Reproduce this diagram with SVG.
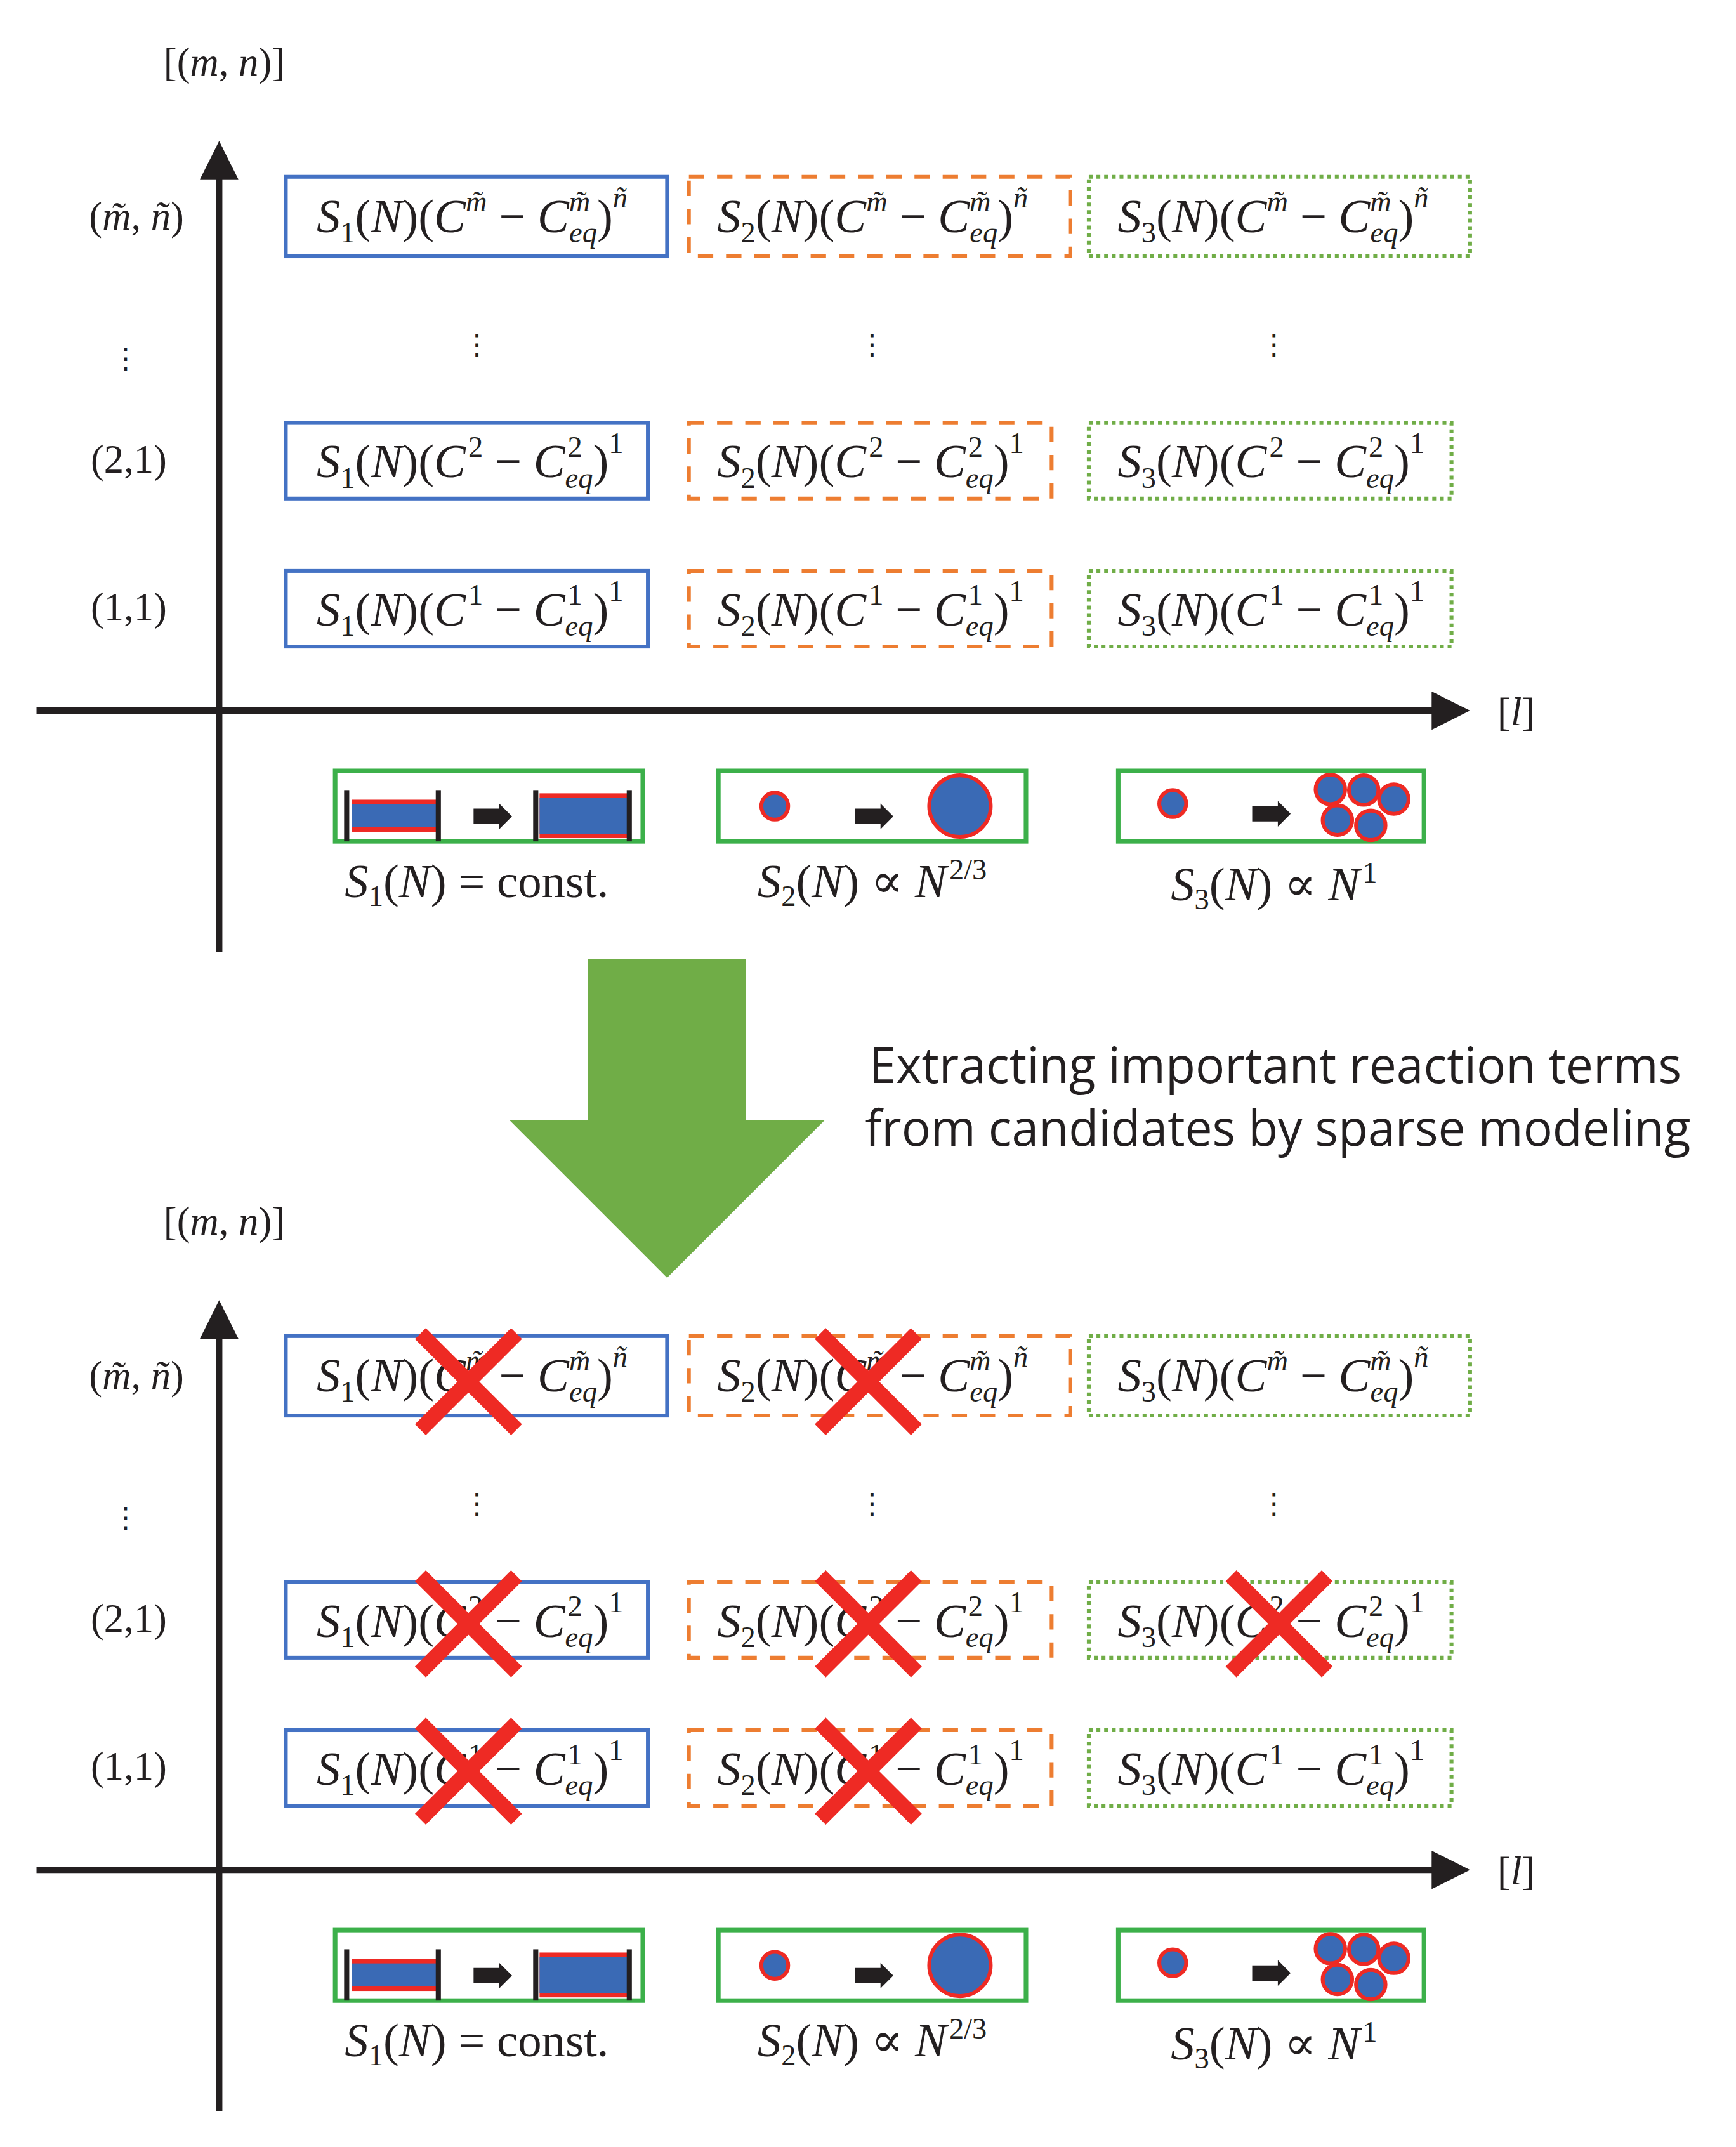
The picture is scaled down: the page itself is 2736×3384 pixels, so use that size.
<svg xmlns="http://www.w3.org/2000/svg" width="2736" height="3384" viewBox="0 0 2736 3384">
<style>
.f{font-family:"Liberation Serif","DejaVu Serif",serif;font-size:74px;fill:#231f20}
.i{font-style:italic}
.s{font-size:46px}
.lab{font-family:"Liberation Serif","DejaVu Serif",serif;font-size:62px;fill:#231f20}
.b1{fill:#fff;stroke:#4472c4;stroke-width:6}
.b2{fill:#fff;stroke:#ed7d31;stroke-width:6;stroke-dasharray:24 20}
.b3{fill:#fff;stroke:#70ad47;stroke-width:6;stroke-dasharray:6 6}
.ax{stroke:#231f20;stroke-width:10;fill:none}
.ib{fill:#fff;stroke:#3cb04a;stroke-width:7}
.bar{fill:#231f20}
.cir{fill:#3a6ab5;stroke:#ee2a24;stroke-width:6}
.x{stroke:#ee2a24;stroke-width:24;stroke-linecap:butt}
.dots{font-family:"DejaVu Sans",sans-serif;font-size:44px;fill:#231f20}
</style>
<defs>
<marker id="ah" markerWidth="6" markerHeight="6" refX="5" refY="3" orient="auto" markerUnits="strokeWidth"><path d="M0,0 L6,3 L0,6 Z" fill="#231f20"/></marker>
</defs>
<g transform="translate(4,0) scale(1.01)">
<!-- ===== TOP HALF ===== -->
<g id="top-half">
<g id="connectors-top">
<line class="ax" x1="338" y1="1486" x2="338" y2="230" marker-end="url(#ah)"/>
<line class="ax" x1="53" y1="1109" x2="2280" y2="1109" marker-end="url(#ah)"/>
</g>
<g id="axis-labels-top" class="lab">
<text x="346" y="118" text-anchor="middle">[(<tspan class="i">m</tspan>, <tspan class="i">n</tspan>)]</text>
<text x="2362" y="1132" text-anchor="middle">[<tspan class="i">l</tspan>]</text>
<text x="209" y="358" text-anchor="middle">(<tspan class="i">m̃</tspan>, <tspan class="i">ñ</tspan>)</text>
<text x="197" y="738" text-anchor="middle">(2,1)</text>
<text x="197" y="968" text-anchor="middle">(1,1)</text>
<text class="dots" x="192" y="574" text-anchor="middle">⋮</text>
<text class="dots" x="740" y="552" text-anchor="middle">⋮</text>
<text class="dots" x="1357" y="552" text-anchor="middle">⋮</text>
<text class="dots" x="1984" y="552" text-anchor="middle">⋮</text>
</g>
<g id="t-c1-top"><rect class="b1" x="442" y="276" width="595" height="124"/>
<text class="f" x="490" y="362"><tspan class="i">S</tspan><tspan class="s" dy="16">1</tspan><tspan dy="-16">(</tspan><tspan class="i">N</tspan>)(<tspan class="i">C</tspan><tspan class="s i" dy="-32">m̃</tspan><tspan dy="32"> − </tspan><tspan class="i">C</tspan><tspan class="s i" dy="-32">m̃</tspan><tspan class="s i" dy="48" dx="-33">eq</tspan><tspan dy="-16">)</tspan><tspan class="s i" dy="-38">ñ</tspan></text></g>
<g id="t-c2-top"><rect class="b2" x="1071" y="276" width="595" height="124"/>
<text class="f" x="1115" y="362"><tspan class="i">S</tspan><tspan class="s" dy="16">2</tspan><tspan dy="-16">(</tspan><tspan class="i">N</tspan>)(<tspan class="i">C</tspan><tspan class="s i" dy="-32">m̃</tspan><tspan dy="32"> − </tspan><tspan class="i">C</tspan><tspan class="s i" dy="-32">m̃</tspan><tspan class="s i" dy="48" dx="-33">eq</tspan><tspan dy="-16">)</tspan><tspan class="s i" dy="-38">ñ</tspan></text></g>
<g id="t-c3-top"><rect class="b3" x="1695" y="276" width="595" height="124"/>
<text class="f" x="1740" y="362"><tspan class="i">S</tspan><tspan class="s" dy="16">3</tspan><tspan dy="-16">(</tspan><tspan class="i">N</tspan>)(<tspan class="i">C</tspan><tspan class="s i" dy="-32">m̃</tspan><tspan dy="32"> − </tspan><tspan class="i">C</tspan><tspan class="s i" dy="-32">m̃</tspan><tspan class="s i" dy="48" dx="-33">eq</tspan><tspan dy="-16">)</tspan><tspan class="s i" dy="-38">ñ</tspan></text></g>

<g id="t-c1-21"><rect class="b1" x="442" y="660" width="565" height="118"/>
<text class="f" x="490" y="745"><tspan class="i">S</tspan><tspan class="s" dy="16">1</tspan><tspan dy="-16">(</tspan><tspan class="i">N</tspan>)(<tspan class="i">C</tspan><tspan class="s" dy="-32" dx="4">2</tspan><tspan dy="32"> − </tspan><tspan class="i">C</tspan><tspan class="s" dy="-32" dx="4">2</tspan><tspan class="s i" dy="48" dx="-27">eq</tspan><tspan dy="-16">)</tspan><tspan class="s" dy="-38">1</tspan></text></g>
<g id="t-c2-21"><rect class="b2" x="1071" y="660" width="566" height="118"/>
<text class="f" x="1115" y="745"><tspan class="i">S</tspan><tspan class="s" dy="16">2</tspan><tspan dy="-16">(</tspan><tspan class="i">N</tspan>)(<tspan class="i">C</tspan><tspan class="s" dy="-32" dx="4">2</tspan><tspan dy="32"> − </tspan><tspan class="i">C</tspan><tspan class="s" dy="-32" dx="4">2</tspan><tspan class="s i" dy="48" dx="-27">eq</tspan><tspan dy="-16">)</tspan><tspan class="s" dy="-38">1</tspan></text></g>
<g id="t-c3-21"><rect class="b3" x="1695" y="660" width="566" height="118"/>
<text class="f" x="1740" y="745"><tspan class="i">S</tspan><tspan class="s" dy="16">3</tspan><tspan dy="-16">(</tspan><tspan class="i">N</tspan>)(<tspan class="i">C</tspan><tspan class="s" dy="-32" dx="4">2</tspan><tspan dy="32"> − </tspan><tspan class="i">C</tspan><tspan class="s" dy="-32" dx="4">2</tspan><tspan class="s i" dy="48" dx="-27">eq</tspan><tspan dy="-16">)</tspan><tspan class="s" dy="-38">1</tspan></text></g>

<g id="t-c1-11"><rect class="b1" x="442" y="891" width="565" height="118"/>
<text class="f" x="490" y="976"><tspan class="i">S</tspan><tspan class="s" dy="16">1</tspan><tspan dy="-16">(</tspan><tspan class="i">N</tspan>)(<tspan class="i">C</tspan><tspan class="s" dy="-32" dx="4">1</tspan><tspan dy="32"> − </tspan><tspan class="i">C</tspan><tspan class="s" dy="-32" dx="4">1</tspan><tspan class="s i" dy="48" dx="-27">eq</tspan><tspan dy="-16">)</tspan><tspan class="s" dy="-38">1</tspan></text></g>
<g id="t-c2-11"><rect class="b2" x="1071" y="891" width="566" height="118"/>
<text class="f" x="1115" y="976"><tspan class="i">S</tspan><tspan class="s" dy="16">2</tspan><tspan dy="-16">(</tspan><tspan class="i">N</tspan>)(<tspan class="i">C</tspan><tspan class="s" dy="-32" dx="4">1</tspan><tspan dy="32"> − </tspan><tspan class="i">C</tspan><tspan class="s" dy="-32" dx="4">1</tspan><tspan class="s i" dy="48" dx="-27">eq</tspan><tspan dy="-16">)</tspan><tspan class="s" dy="-38">1</tspan></text></g>
<g id="t-c3-11"><rect class="b3" x="1695" y="891" width="566" height="118"/>
<text class="f" x="1740" y="976"><tspan class="i">S</tspan><tspan class="s" dy="16">3</tspan><tspan dy="-16">(</tspan><tspan class="i">N</tspan>)(<tspan class="i">C</tspan><tspan class="s" dy="-32" dx="4">1</tspan><tspan dy="32"> − </tspan><tspan class="i">C</tspan><tspan class="s" dy="-32" dx="4">1</tspan><tspan class="s i" dy="48" dx="-27">eq</tspan><tspan dy="-16">)</tspan><tspan class="s" dy="-38">1</tspan></text></g>

<g id="ill1-top"><rect class="ib" x="519" y="1203" width="480" height="110"/>
<rect x="545" y="1248" width="132" height="50" fill="#ee2a24"/><rect x="545" y="1255" width="132" height="36" fill="#3a6ab5"/>
<rect class="bar" x="533" y="1233" width="8" height="80"/><rect class="bar" x="676" y="1233" width="8" height="80"/>
<path d="M735,1262 h40 v-8 l20,20 l-20,20 v-8 h-40 Z" fill="#231f20"/>
<rect x="838" y="1238" width="138" height="70" fill="#ee2a24"/><rect x="838" y="1245" width="138" height="56" fill="#3a6ab5"/>
<rect class="bar" x="828" y="1233" width="8" height="80"/><rect class="bar" x="974" y="1233" width="8" height="80"/>
<text class="f" x="740" y="1400" text-anchor="middle" font-size="62"><tspan class="i">S</tspan><tspan class="s" dy="14" font-size="40">1</tspan><tspan dy="-14">(</tspan><tspan class="i">N</tspan>) = const.</text></g>
<g id="ill2-top"><rect class="ib" x="1117" y="1203" width="480" height="110"/>
<circle class="cir" cx="1205" cy="1258" r="21"/>
<path d="M1330,1262 h40 v-8 l20,20 l-20,20 v-8 h-40 Z" fill="#231f20"/>
<circle class="cir" cx="1494" cy="1258" r="48"/>
<text class="f" x="1357" y="1400" text-anchor="middle" font-size="62"><tspan class="i">S</tspan><tspan class="s" dy="14" font-size="40">2</tspan><tspan dy="-14">(</tspan><tspan class="i">N</tspan>) ∝ <tspan class="i">N</tspan><tspan class="s" dy="-28" font-size="40" dx="4">2/3</tspan></text></g>
<g id="ill3-top"><rect class="ib" x="1741" y="1203" width="477" height="110"/>
<circle class="cir" cx="1826" cy="1254" r="21"/>
<path d="M1950,1258 h40 v-8 l20,20 l-20,20 v-8 h-40 Z" fill="#231f20"/>
<circle class="cir" cx="2072" cy="1232" r="23"/><circle class="cir" cx="2124" cy="1233" r="23"/><circle class="cir" cx="2171" cy="1247" r="23"/><circle class="cir" cx="2083" cy="1280" r="23"/><circle class="cir" cx="2135" cy="1288" r="23"/>
<text class="f" x="1984" y="1405" text-anchor="middle" font-size="62"><tspan class="i">S</tspan><tspan class="s" dy="14" font-size="40">3</tspan><tspan dy="-14">(</tspan><tspan class="i">N</tspan>) ∝ <tspan class="i">N</tspan><tspan class="s" dy="-28" font-size="40" dx="4">1</tspan></text></g>
</g>

<!-- ===== BIG ARROW ===== -->
<g id="big-arrow"><path d="M913,1496 H1160 V1748 H1283 L1037,1994 L791,1748 H913 Z" fill="#70ad47"/></g>
<g id="caption">
<text x="1986" y="1690" text-anchor="middle" font-family="Open Sans, Liberation Sans, sans-serif" font-size="78" fill="#231f20" textLength="1268" lengthAdjust="spacingAndGlyphs">Extracting important reaction terms</text>
<text x="1990" y="1788" text-anchor="middle" font-family="Open Sans, Liberation Sans, sans-serif" font-size="78" fill="#231f20" textLength="1288" lengthAdjust="spacingAndGlyphs">from candidates by sparse modeling</text>
</g>

<!-- ===== BOTTOM HALF ===== -->
<g id="bottom-half" transform="translate(0,1809)">
<g id="connectors-bottom">
<line class="ax" x1="338" y1="1486" x2="338" y2="230" marker-end="url(#ah)"/>
<line class="ax" x1="53" y1="1109" x2="2280" y2="1109" marker-end="url(#ah)"/>
</g>
<g id="axis-labels-bottom" class="lab">
<text x="346" y="118" text-anchor="middle">[(<tspan class="i">m</tspan>, <tspan class="i">n</tspan>)]</text>
<text x="2362" y="1132" text-anchor="middle">[<tspan class="i">l</tspan>]</text>
<text x="209" y="358" text-anchor="middle">(<tspan class="i">m̃</tspan>, <tspan class="i">ñ</tspan>)</text>
<text x="197" y="738" text-anchor="middle">(2,1)</text>
<text x="197" y="968" text-anchor="middle">(1,1)</text>
<text class="dots" x="192" y="574" text-anchor="middle">⋮</text>
<text class="dots" x="740" y="552" text-anchor="middle">⋮</text>
<text class="dots" x="1357" y="552" text-anchor="middle">⋮</text>
<text class="dots" x="1984" y="552" text-anchor="middle">⋮</text>
</g>
<g id="b-c1-top"><rect class="b1" x="442" y="276" width="595" height="124"/>
<text class="f" x="490" y="362"><tspan class="i">S</tspan><tspan class="s" dy="16">1</tspan><tspan dy="-16">(</tspan><tspan class="i">N</tspan>)(<tspan class="i">C</tspan><tspan class="s i" dy="-32">m̃</tspan><tspan dy="32"> − </tspan><tspan class="i">C</tspan><tspan class="s i" dy="-32">m̃</tspan><tspan class="s i" dy="48" dx="-33">eq</tspan><tspan dy="-16">)</tspan><tspan class="s i" dy="-38">ñ</tspan></text></g>
<g id="b-c2-top"><rect class="b2" x="1071" y="276" width="595" height="124"/>
<text class="f" x="1115" y="362"><tspan class="i">S</tspan><tspan class="s" dy="16">2</tspan><tspan dy="-16">(</tspan><tspan class="i">N</tspan>)(<tspan class="i">C</tspan><tspan class="s i" dy="-32">m̃</tspan><tspan dy="32"> − </tspan><tspan class="i">C</tspan><tspan class="s i" dy="-32">m̃</tspan><tspan class="s i" dy="48" dx="-33">eq</tspan><tspan dy="-16">)</tspan><tspan class="s i" dy="-38">ñ</tspan></text></g>
<g id="b-c3-top"><rect class="b3" x="1695" y="276" width="595" height="124"/>
<text class="f" x="1740" y="362"><tspan class="i">S</tspan><tspan class="s" dy="16">3</tspan><tspan dy="-16">(</tspan><tspan class="i">N</tspan>)(<tspan class="i">C</tspan><tspan class="s i" dy="-32">m̃</tspan><tspan dy="32"> − </tspan><tspan class="i">C</tspan><tspan class="s i" dy="-32">m̃</tspan><tspan class="s i" dy="48" dx="-33">eq</tspan><tspan dy="-16">)</tspan><tspan class="s i" dy="-38">ñ</tspan></text></g>

<g id="b-c1-21"><rect class="b1" x="442" y="660" width="565" height="118"/>
<text class="f" x="490" y="745"><tspan class="i">S</tspan><tspan class="s" dy="16">1</tspan><tspan dy="-16">(</tspan><tspan class="i">N</tspan>)(<tspan class="i">C</tspan><tspan class="s" dy="-32" dx="4">2</tspan><tspan dy="32"> − </tspan><tspan class="i">C</tspan><tspan class="s" dy="-32" dx="4">2</tspan><tspan class="s i" dy="48" dx="-27">eq</tspan><tspan dy="-16">)</tspan><tspan class="s" dy="-38">1</tspan></text></g>
<g id="b-c2-21"><rect class="b2" x="1071" y="660" width="566" height="118"/>
<text class="f" x="1115" y="745"><tspan class="i">S</tspan><tspan class="s" dy="16">2</tspan><tspan dy="-16">(</tspan><tspan class="i">N</tspan>)(<tspan class="i">C</tspan><tspan class="s" dy="-32" dx="4">2</tspan><tspan dy="32"> − </tspan><tspan class="i">C</tspan><tspan class="s" dy="-32" dx="4">2</tspan><tspan class="s i" dy="48" dx="-27">eq</tspan><tspan dy="-16">)</tspan><tspan class="s" dy="-38">1</tspan></text></g>
<g id="b-c3-21"><rect class="b3" x="1695" y="660" width="566" height="118"/>
<text class="f" x="1740" y="745"><tspan class="i">S</tspan><tspan class="s" dy="16">3</tspan><tspan dy="-16">(</tspan><tspan class="i">N</tspan>)(<tspan class="i">C</tspan><tspan class="s" dy="-32" dx="4">2</tspan><tspan dy="32"> − </tspan><tspan class="i">C</tspan><tspan class="s" dy="-32" dx="4">2</tspan><tspan class="s i" dy="48" dx="-27">eq</tspan><tspan dy="-16">)</tspan><tspan class="s" dy="-38">1</tspan></text></g>

<g id="b-c1-11"><rect class="b1" x="442" y="891" width="565" height="118"/>
<text class="f" x="490" y="976"><tspan class="i">S</tspan><tspan class="s" dy="16">1</tspan><tspan dy="-16">(</tspan><tspan class="i">N</tspan>)(<tspan class="i">C</tspan><tspan class="s" dy="-32" dx="4">1</tspan><tspan dy="32"> − </tspan><tspan class="i">C</tspan><tspan class="s" dy="-32" dx="4">1</tspan><tspan class="s i" dy="48" dx="-27">eq</tspan><tspan dy="-16">)</tspan><tspan class="s" dy="-38">1</tspan></text></g>
<g id="b-c2-11"><rect class="b2" x="1071" y="891" width="566" height="118"/>
<text class="f" x="1115" y="976"><tspan class="i">S</tspan><tspan class="s" dy="16">2</tspan><tspan dy="-16">(</tspan><tspan class="i">N</tspan>)(<tspan class="i">C</tspan><tspan class="s" dy="-32" dx="4">1</tspan><tspan dy="32"> − </tspan><tspan class="i">C</tspan><tspan class="s" dy="-32" dx="4">1</tspan><tspan class="s i" dy="48" dx="-27">eq</tspan><tspan dy="-16">)</tspan><tspan class="s" dy="-38">1</tspan></text></g>
<g id="b-c3-11"><rect class="b3" x="1695" y="891" width="566" height="118"/>
<text class="f" x="1740" y="976"><tspan class="i">S</tspan><tspan class="s" dy="16">3</tspan><tspan dy="-16">(</tspan><tspan class="i">N</tspan>)(<tspan class="i">C</tspan><tspan class="s" dy="-32" dx="4">1</tspan><tspan dy="32"> − </tspan><tspan class="i">C</tspan><tspan class="s" dy="-32" dx="4">1</tspan><tspan class="s i" dy="48" dx="-27">eq</tspan><tspan dy="-16">)</tspan><tspan class="s" dy="-38">1</tspan></text></g>

<g id="ill1-bottom"><rect class="ib" x="519" y="1203" width="480" height="110"/>
<rect x="545" y="1248" width="132" height="50" fill="#ee2a24"/><rect x="545" y="1255" width="132" height="36" fill="#3a6ab5"/>
<rect class="bar" x="533" y="1233" width="8" height="80"/><rect class="bar" x="676" y="1233" width="8" height="80"/>
<path d="M735,1262 h40 v-8 l20,20 l-20,20 v-8 h-40 Z" fill="#231f20"/>
<rect x="838" y="1238" width="138" height="70" fill="#ee2a24"/><rect x="838" y="1245" width="138" height="56" fill="#3a6ab5"/>
<rect class="bar" x="828" y="1233" width="8" height="80"/><rect class="bar" x="974" y="1233" width="8" height="80"/>
<text class="f" x="740" y="1400" text-anchor="middle" font-size="62"><tspan class="i">S</tspan><tspan class="s" dy="14" font-size="40">1</tspan><tspan dy="-14">(</tspan><tspan class="i">N</tspan>) = const.</text></g>
<g id="ill2-bottom"><rect class="ib" x="1117" y="1203" width="480" height="110"/>
<circle class="cir" cx="1205" cy="1258" r="21"/>
<path d="M1330,1262 h40 v-8 l20,20 l-20,20 v-8 h-40 Z" fill="#231f20"/>
<circle class="cir" cx="1494" cy="1258" r="48"/>
<text class="f" x="1357" y="1400" text-anchor="middle" font-size="62"><tspan class="i">S</tspan><tspan class="s" dy="14" font-size="40">2</tspan><tspan dy="-14">(</tspan><tspan class="i">N</tspan>) ∝ <tspan class="i">N</tspan><tspan class="s" dy="-28" font-size="40" dx="4">2/3</tspan></text></g>
<g id="ill3-bottom"><rect class="ib" x="1741" y="1203" width="477" height="110"/>
<circle class="cir" cx="1826" cy="1254" r="21"/>
<path d="M1950,1258 h40 v-8 l20,20 l-20,20 v-8 h-40 Z" fill="#231f20"/>
<circle class="cir" cx="2072" cy="1232" r="23"/><circle class="cir" cx="2124" cy="1233" r="23"/><circle class="cir" cx="2171" cy="1247" r="23"/><circle class="cir" cx="2083" cy="1280" r="23"/><circle class="cir" cx="2135" cy="1288" r="23"/>
<text class="f" x="1984" y="1405" text-anchor="middle" font-size="62"><tspan class="i">S</tspan><tspan class="s" dy="14" font-size="40">3</tspan><tspan dy="-14">(</tspan><tspan class="i">N</tspan>) ∝ <tspan class="i">N</tspan><tspan class="s" dy="-28" font-size="40" dx="4">1</tspan></text></g>

<g id="crosses">
<path class="x" d="M652,272 L802,422 M802,272 L652,422"/>
<path class="x" d="M1276,272 L1426,422 M1426,272 L1276,422"/>
<path class="x" d="M652,650 L802,800 M802,650 L652,800"/>
<path class="x" d="M1276,650 L1426,800 M1426,650 L1276,800"/>
<path class="x" d="M1917,650 L2067,800 M2067,650 L1917,800"/>
<path class="x" d="M652,880 L802,1030 M802,880 L652,1030"/>
<path class="x" d="M1276,880 L1426,1030 M1426,880 L1276,1030"/>
</g>
</g>
</g>
</svg>
